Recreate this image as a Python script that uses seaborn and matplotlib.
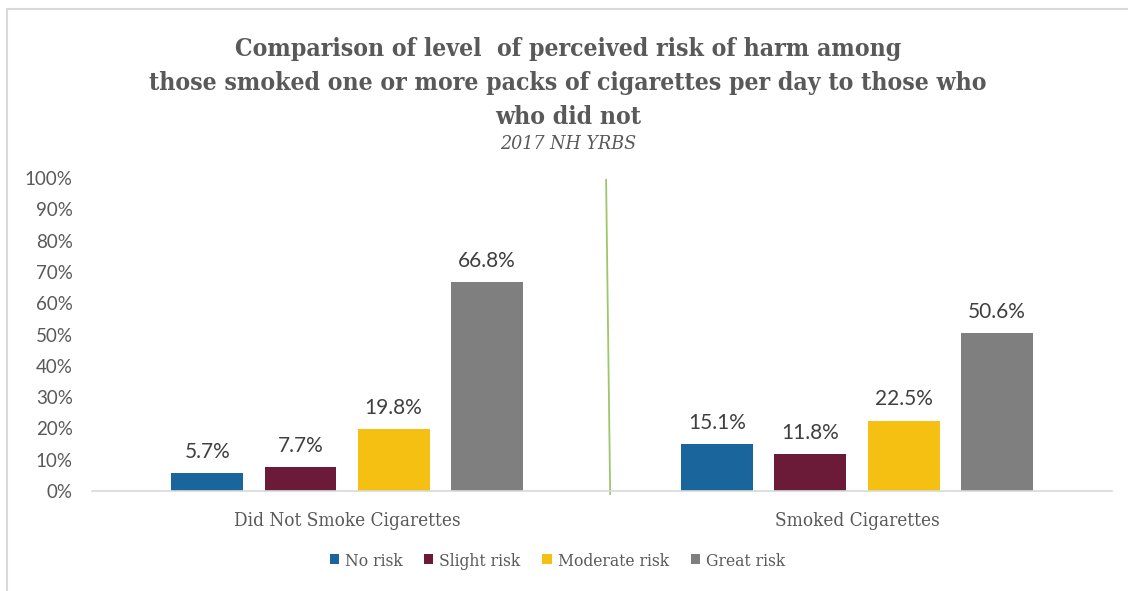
import matplotlib
matplotlib.use("Agg")
import matplotlib.pyplot as plt
import seaborn as sns
import pandas as pd
from matplotlib.patches import Rectangle
from matplotlib.lines import Line2D

# Survey groups and risk-perception levels
groups = ["Did Not Smoke Cigarettes", "Smoked Cigarettes"]
risk_levels = ["No risk", "Slight risk", "Moderate risk", "Great risk"]
no_risk = [5.7, 15.1]
slight_risk = [7.7, 11.8]
moderate_risk = [19.8, 22.5]
great_risk = [66.8, 50.6]
y_ticks = [0, 10, 20, 30, 40, 50, 60, 70, 80, 90, 100]
y_tick_labels = ["0%", "10%", "20%", "30%", "40%", "50%", "60%", "70%", "80%", "90%", "100%"]

title_lines = [
    "Comparison of level  of perceived risk of harm among",
    "those smoked one or more packs of cigarettes per day to those who",
    "who did not",
]
subtitle = "2017 NH YRBS"

colors = ["#1A659C", "#6B1A38", "#F5C012", "#7F7F7F"]

series = [no_risk, slight_risk, moderate_risk, great_risk]
df = pd.DataFrame(
    [
        {"group": g, "risk": r, "pct": vals[i]}
        for r, vals in zip(risk_levels, series)
        for i, g in enumerate(groups)
    ]
)

sns.set_theme(style="white")
plt.rcParams["font.family"] = ["Lato", "DejaVu Sans"]

fig = plt.figure(figsize=(11.28, 5.91), dpi=100)
ax = fig.add_axes([0.0816, 0.1692, 0.9042, 0.5296])

sns.barplot(
    data=df, x="group", y="pct", hue="risk", order=groups, hue_order=risk_levels,
    palette=colors, width=0.73, gap=0.227, ax=ax, legend=False,
    edgecolor="none", linewidth=0, saturation=1,
)

ax.set_xlim(-0.5, 1.5)
ax.set_ylim(0, 100)
ax.set_yticks(y_ticks)
ax.set_yticklabels(y_tick_labels)
ax.tick_params(axis="y", labelsize=13.5, labelcolor="#595959", length=0, pad=14)
ax.tick_params(axis="x", length=0, pad=15)
for lbl in ax.get_xticklabels():
    lbl.set_fontfamily(["DejaVu Serif"])
    lbl.set_fontstretch("condensed")
    lbl.set_fontsize(13.6)
    lbl.set_color("#595959")
ax.set_xlabel("")
ax.set_ylabel("")
for s in ["top", "right", "left"]:
    ax.spines[s].set_visible(False)
ax.spines["bottom"].set_color("#D9D9D9")
ax.spines["bottom"].set_linewidth(1.2)

for cont in ax.containers:
    ax.bar_label(cont, fmt="%.1f%%", padding=8, fontsize=15, color="#404040")

# Divider between the two groups
ax.plot([0.508, 0.516], [99.5, -1], color="#9DC76B", lw=1.3, clip_on=False)

# Frame lines around the chart area
fig.add_artist(Line2D([0.0062, 0.0062], [0.0, 0.985], color="#D9D9D9", lw=1.5))
fig.add_artist(Line2D([0.0062, 1.0], [0.985, 0.985], color="#D9D9D9", lw=1.5))

# Title and subtitle
title_kw = dict(ha="center", va="center", fontfamily=["DejaVu Serif"],
                fontstretch="condensed", fontweight="bold", color="#595959", fontsize=17.7)
for line, ypix in zip(title_lines, [49, 83, 117]):
    fig.text(0.5035, 1 - ypix / 591, line, **title_kw)
fig.text(0.5035, 1 - 144 / 591, subtitle, ha="center", va="center",
         fontfamily=["DejaVu Serif"], fontstretch="condensed", style="italic",
         color="#595959", fontsize=14)

# Legend
handles = [Rectangle((0, 0), 1, 1, facecolor=c, edgecolor="none") for c in colors]
leg = fig.legend(
    handles, risk_levels, loc="center", bbox_to_anchor=(0.494, 1 - 561 / 591),
    ncol=4, frameon=False, handlelength=0.52, handleheight=0.52, handletextpad=0.35,
    columnspacing=1.26, prop={"family": ["DejaVu Serif"], "stretch": "condensed", "size": 12.5},
)
for t in leg.get_texts():
    t.set_color("#595959")

fig.savefig("out.png", dpi=100, facecolor="white")
